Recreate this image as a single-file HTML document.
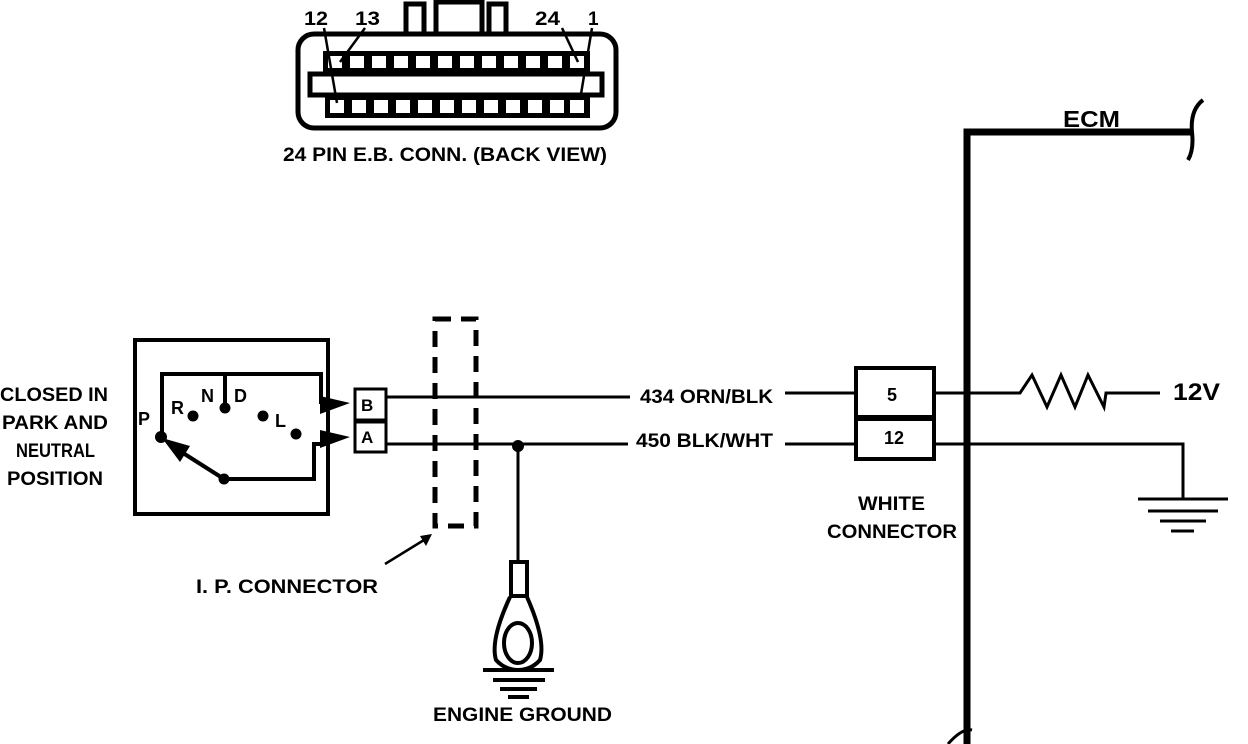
<!DOCTYPE html>
<html><head><style>body{margin:0;background:#fff}svg{display:block}text{font-family:"Liberation Sans",sans-serif;font-weight:bold;fill:#000}</style></head><body>
<svg width="1248" height="744" viewBox="0 0 1248 744" xmlns="http://www.w3.org/2000/svg">
<g stroke="#000" fill="none">
<rect x="298" y="34" width="318" height="94" rx="16" stroke-width="5"/>
<rect x="406" y="4" width="18" height="30" stroke-width="5"/>
<rect x="436" y="2" width="46" height="32" stroke-width="5"/>
<rect x="489" y="4" width="17" height="30" stroke-width="5"/>
<rect x="323" y="51" width="267" height="21" fill="#000" stroke="none"/>
<rect x="325" y="96" width="265" height="22" fill="#000" stroke="none"/>
<rect x="310" y="74" width="292" height="21" stroke-width="5"/>
</g>
<g fill="#fff">
<rect x="328" y="56" width="14" height="12"/><rect x="350" y="56" width="14" height="12"/><rect x="372" y="56" width="14" height="12"/><rect x="394" y="56" width="14" height="12"/><rect x="416" y="56" width="14" height="12"/><rect x="438" y="56" width="14" height="12"/><rect x="460" y="56" width="14" height="12"/><rect x="482" y="56" width="14" height="12"/><rect x="504" y="56" width="14" height="12"/><rect x="526" y="56" width="14" height="12"/><rect x="548" y="56" width="14" height="12"/><rect x="570" y="56" width="14" height="12"/>
<rect x="330" y="100" width="14" height="13"/><rect x="352" y="100" width="14" height="13"/><rect x="374" y="100" width="14" height="13"/><rect x="396" y="100" width="14" height="13"/><rect x="418" y="100" width="14" height="13"/><rect x="440" y="100" width="14" height="13"/><rect x="462" y="100" width="14" height="13"/><rect x="484" y="100" width="14" height="13"/><rect x="506" y="100" width="14" height="13"/><rect x="528" y="100" width="14" height="13"/><rect x="550" y="100" width="14" height="13"/><rect x="570" y="100" width="14" height="13"/>
</g>
<g stroke="#000" stroke-width="2.5" fill="none">
<line x1="324" y1="28" x2="337" y2="103"/><line x1="365" y1="28" x2="340" y2="62"/>
<line x1="562" y1="28" x2="578" y2="62"/><line x1="592" y1="28" x2="580" y2="100"/>
</g>
<g font-size="19">
<text x="304" y="25" textLength="24" lengthAdjust="spacingAndGlyphs">12</text><text x="355" y="25" textLength="25" lengthAdjust="spacingAndGlyphs">13</text>
<text x="535" y="25" textLength="25" lengthAdjust="spacingAndGlyphs">24</text><text x="588" y="25">1</text>
<text x="283" y="161" textLength="324" lengthAdjust="spacingAndGlyphs">24 PIN E.B. CONN. (BACK VIEW)</text>
</g>

<g stroke="#000" fill="none">
<rect x="135" y="340" width="193" height="174" stroke-width="4"/>
<polyline points="162,437 162,374 321,374 321,404" stroke-width="4"/>
<line x1="225" y1="374" x2="225" y2="408" stroke-width="4"/>
<polyline points="224,479 314,479 314,444 324,444" stroke-width="4"/>
<line x1="224" y1="479" x2="172" y2="446" stroke-width="4"/>
</g>
<polygon points="162,438 190,446 180,462" fill="#000"/>
<polygon points="320,396 350,403 320,414" fill="#000"/>
<polygon points="320,430 350,437 320,448" fill="#000"/>
<g fill="#000"><circle cx="161" cy="437" r="6"/><circle cx="193" cy="416" r="5.5"/><circle cx="225" cy="408" r="5.5"/><circle cx="263" cy="416" r="5.5"/><circle cx="296" cy="434" r="5.5"/><circle cx="224" cy="479" r="5.5"/></g>
<g font-size="18"><text x="138" y="425">P</text><text x="171" y="414">R</text><text x="201" y="402">N</text><text x="234" y="402">D</text><text x="275" y="427">L</text></g>
<g font-size="19"><text x="0" y="401" textLength="108" lengthAdjust="spacingAndGlyphs">CLOSED IN</text><text x="2" y="429" textLength="106" lengthAdjust="spacingAndGlyphs">PARK AND</text><text x="16" y="457" textLength="79" lengthAdjust="spacingAndGlyphs">NEUTRAL</text><text x="7" y="485" textLength="96" lengthAdjust="spacingAndGlyphs">POSITION</text></g>
<g stroke="#000" stroke-width="3" fill="none">
<rect x="355" y="389" width="31" height="31"/><rect x="355" y="422" width="31" height="30"/>
<line x1="386" y1="397" x2="630" y2="397"/><line x1="386" y1="444" x2="628" y2="444"/>
<line x1="518" y1="446" x2="518" y2="562"/>
</g>
<text x="361" y="411" font-size="17">B</text><text x="361" y="443" font-size="17">A</text>
<circle cx="518" cy="446" r="6" fill="#000"/>
<rect x="435" y="319" width="41" height="207" fill="none" stroke="#000" stroke-width="5" stroke-dasharray="16,10"/>
<line x1="385" y1="564" x2="424" y2="540" stroke="#000" stroke-width="2.5"/><polygon points="432,534 420,536 426,546" fill="#000"/>
<g font-size="19">
<text x="196" y="593" textLength="182" lengthAdjust="spacingAndGlyphs">I. P. CONNECTOR</text>
<text x="640" y="403" textLength="133" lengthAdjust="spacingAndGlyphs">434 ORN/BLK</text>
<text x="636" y="447" textLength="137" lengthAdjust="spacingAndGlyphs">450 BLK/WHT</text>
<text x="433" y="721" textLength="179" lengthAdjust="spacingAndGlyphs">ENGINE GROUND</text>
<text x="858" y="510" textLength="67" lengthAdjust="spacingAndGlyphs">WHITE</text>
<text x="827" y="538" textLength="130" lengthAdjust="spacingAndGlyphs">CONNECTOR</text>
</g>
<g stroke="#000" fill="none" stroke-width="4">
<rect x="511" y="562" width="16" height="34"/>
<path d="M510,597 Q490,640 496,660 Q505,670 518,670 Q531,670 540,660 Q546,640 527,597"/>
<ellipse cx="518" cy="643" rx="14" ry="20"/>
<line x1="483" y1="670" x2="554" y2="670"/><line x1="493" y1="680" x2="545" y2="680"/><line x1="500" y1="689" x2="537" y2="689"/><line x1="508" y1="697" x2="529" y2="697"/>
</g>
<g stroke="#000" fill="none">
<line x1="785" y1="393" x2="855" y2="393" stroke-width="3"/><line x1="785" y1="444" x2="855" y2="444" stroke-width="3"/>
<rect x="856" y="368" width="78" height="49" stroke-width="4"/><rect x="856" y="419" width="78" height="40" stroke-width="4"/>
<polyline points="934,393 1020,393 1032,375 1047,407 1061,375 1075,407 1088,375 1104,407 1106,393 1160,393" stroke-width="3"/>
<polyline points="934,444 1183,444 1183,499" stroke-width="3"/>
<line x1="1138" y1="499" x2="1228" y2="499" stroke-width="3"/><line x1="1148" y1="511" x2="1218" y2="511" stroke-width="3"/><line x1="1160" y1="521" x2="1206" y2="521" stroke-width="3"/><line x1="1171" y1="531" x2="1194" y2="531" stroke-width="3"/>
<polyline points="967,744 967,132 1192,132" stroke-width="7"/>
<path d="M1203,100 Q1190,110 1192,132 Q1194,150 1188,160" stroke-width="4"/>
<path d="M948,744 Q962,728 972,730" stroke-width="3"/>
</g>
<text x="887" y="401" font-size="18">5</text>
<text x="884" y="444" font-size="18">12</text>
<text x="1063" y="127" font-size="23" textLength="57" lengthAdjust="spacingAndGlyphs">ECM</text>
<text x="1173" y="400" font-size="24" textLength="47" lengthAdjust="spacingAndGlyphs">12V</text>
</svg>
</body></html>
